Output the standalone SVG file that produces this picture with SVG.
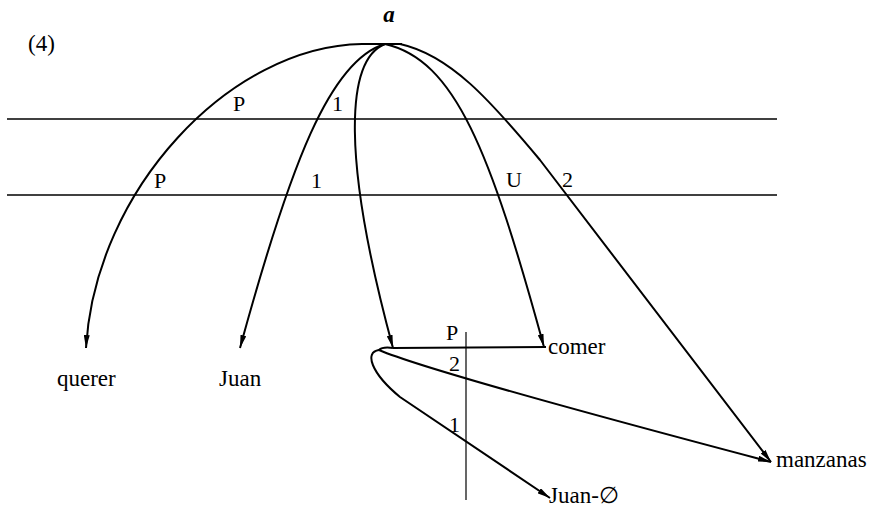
<svg xmlns="http://www.w3.org/2000/svg" width="896" height="507" viewBox="0 0 896 507">
<style>
  .t { font-family: "Liberation Serif", "Times New Roman", serif; font-size: 23px; fill: #000; }
  .l { font-family: "Liberation Serif", "Times New Roman", serif; font-size: 22px; fill: #000; }
  .c { fill: none; stroke: #000; stroke-width: 2; }
  .h { fill: none; stroke: #000; stroke-width: 1.6; }
</style>
<defs>
  <marker id="arr" viewBox="0 0 13 6" refX="13" refY="3" markerWidth="13" markerHeight="6" markerUnits="userSpaceOnUse" orient="auto">
    <path d="M0,0 L13,3 L0,6 z" fill="#000"/>
  </marker>
</defs>
<rect width="896" height="507" fill="#fff"/>
<text class="t" x="28" y="51">(4)</text>
<g id="strata">
  <line class="h" x1="7" y1="119" x2="777" y2="119"/>
  <line class="h" x1="7" y1="195" x2="777" y2="195"/>
  <line x1="466" y1="332" x2="466" y2="500" stroke="#000" stroke-width="1.2"/>
</g>
<g id="connectors">
  <path class="c" d="M402,44 L362,44 C230,46 95,190 86,348" marker-end="url(#arr)"/>
  <path class="c" d="M385,44 C330,60 290,165 240,348" marker-end="url(#arr)"/>
  <path class="c" d="M385,44 C345,60 342,160 393,348" marker-end="url(#arr)"/>
  <path class="c" d="M385,44 C455,60 490,150 544,347" marker-end="url(#arr)"/>
  <path class="c" d="M400,44 C450,55 490,100 540,160 L771,462" marker-end="url(#arr)"/>
  <path class="c" d="M393,348 L546,347"/>
  <path class="c" d="M393,348 C386,347 381,348 379,350 Q430,372 771,462" marker-end="url(#arr)"/>
  <path class="c" d="M379,350 C364,352 371,373 400,397 L550,498" marker-end="url(#arr)"/>
  <text class="l" x="233" y="111">P</text>
  <text class="l" x="332" y="111">1</text>
  <text class="l" x="154" y="188">P</text>
  <text class="l" x="311" y="188">1</text>
  <text class="l" x="506" y="187">U</text>
  <text class="l" x="562" y="187">2</text>
  <text class="l" x="446" y="340">P</text>
  <text class="l" x="449" y="371">2</text>
  <text class="l" x="449" y="432">1</text>
</g>
<g id="node-a"><text class="t" x="389" y="22" text-anchor="middle" font-style="italic" font-weight="bold">a</text></g>
<g id="node-querer"><text class="t" x="57" y="386">querer</text></g>
<g id="node-juan"><text class="t" x="219" y="386">Juan</text></g>
<g id="node-comer"><text class="t" x="548" y="354">comer</text></g>
<g id="node-manzanas"><text class="t" x="776" y="467">manzanas</text></g>
<g id="node-juan0"><text class="t" x="549" y="503">Juan-∅</text></g>
</svg>
